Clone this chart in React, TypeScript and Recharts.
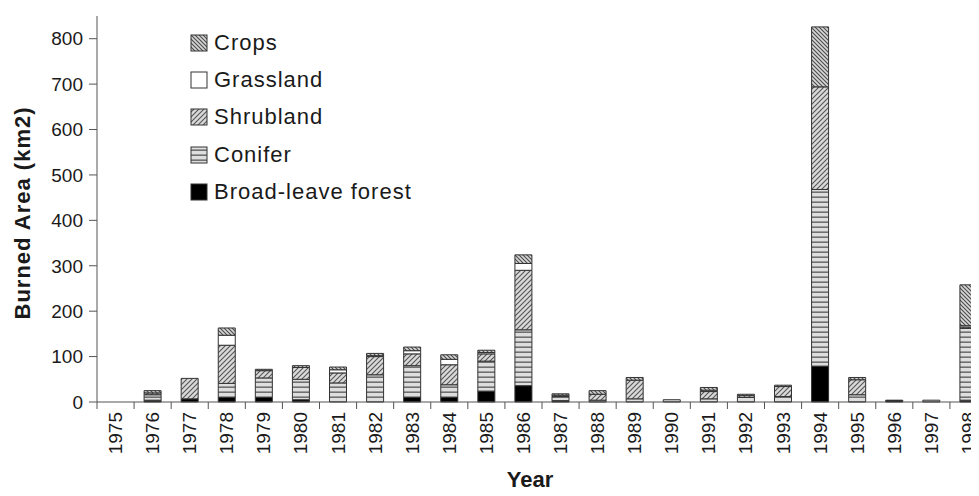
import React from 'react';
import { BarChart, Bar, XAxis, YAxis, Legend } from 'recharts';

const years = ['1975', '1976', '1977', '1978', '1979', '1980', '1981', '1982', '1983', '1984', '1985', '1986',
  '1987', '1988', '1989', '1990', '1991', '1992', '1993', '1994', '1995', '1996', '1997', '1998'];

// burned area per land cover, km2 (stacked bottom -> top)
const broadleaf = [0, 4, 7, 10, 10, 5, 0, 0, 10, 10, 24, 36, 3, 0, 0, 0, 0, 0, 0, 79, 0, 4, 0, 4];
const conifer = [0, 12, 0, 31, 43, 45, 42, 60, 70, 28, 66, 123, 9, 4, 7, 5, 7, 10, 12, 389, 16, 0, 4, 158];
const shrubland = [0, 4, 45, 84, 16, 26, 22, 40, 26, 44, 16, 131, 3, 13, 41, 0, 16, 4, 22, 226, 33, 0, 0, 3];
const grassland = [0, 0, 0, 22, 0, 0, 7, 2, 7, 12, 3, 15, 0, 0, 0, 0, 3, 0, 0, 0, 0, 0, 0, 3];
const crops = [0, 5, 0, 16, 3, 4, 6, 5, 8, 10, 5, 19, 3, 8, 6, 0, 6, 3, 3, 132, 5, 0, 0, 90];

const yTicks = [0, 100, 200, 300, 400, 500, 600, 700, 800];

const series = [
  { key: 'broadleaf', name: 'Broad-leave forest', fill: '#000' },
  { key: 'conifer', name: 'Conifer', fill: 'url(#pConifer)' },
  { key: 'shrubland', name: 'Shrubland', fill: 'url(#pShrub)' },
  { key: 'grassland', name: 'Grassland', fill: '#fff' },
  { key: 'crops', name: 'Crops', fill: 'url(#pCrops)' },
];

const FONT = '"Liberation Sans", Arial, sans-serif';

const data = years.map((year, i) => ({
  year,
  broadleaf: broadleaf[i],
  conifer: conifer[i],
  shrubland: shrubland[i],
  grassland: grassland[i],
  crops: crops[i],
}));

const Patterns = () => (
  <svg width={0} height={0} style={{ position: 'absolute' }}>
    <defs>
      <pattern id="pCrops" width="4" height="4" patternUnits="userSpaceOnUse">
        <rect width="4" height="4" fill="#d6d6d6" />
        <path d="M-1,-1 L5,5 M-1,3 L1,5 M3,-1 L5,1" stroke="#4a4a4a" strokeWidth="1.1" />
      </pattern>
      <pattern id="pShrub" width="5" height="5" patternUnits="userSpaceOnUse">
        <rect width="5" height="5" fill="#d9d9d9" />
        <path d="M-1,6 L6,-1 M-1,1 L1,-1 M4,6 L6,4" stroke="#555" strokeWidth="1.1" />
      </pattern>
      <pattern id="pConifer" width="5" height="5" patternUnits="userSpaceOnUse">
        <rect width="5" height="5" fill="#dedede" />
        <rect y="3.4" width="5" height="1.6" fill="#707070" />
      </pattern>
    </defs>
  </svg>
);

const YearTick = (props: any) => {
  const { x, y, payload, width, visibleTicksCount, index } = props;
  const band = width / visibleTicksCount;
  return (
    <g>
      {index === 0 && <line x1={x - band / 2} x2={x - band / 2} y1={y} y2={y + 7} stroke="#555" />}
      <line x1={x + band / 2} x2={x + band / 2} y1={y} y2={y + 7} stroke="#555" />
      <text
        x={x}
        y={y + 10}
        transform={`rotate(-90, ${x}, ${y + 10})`}
        textAnchor="end"
        dominantBaseline="central"
        fontSize={19}
        fontFamily={FONT}
        fill="#1a1a1a"
      >
        {payload.value}
      </text>
    </g>
  );
};

const LegendBox = () => (
  <div style={{ fontFamily: FONT }}>
    {[...series].reverse().map(s => (
      <div key={s.key} style={{ display: 'flex', alignItems: 'center', height: 37.3 }}>
        <svg width={18} height={18} style={{ marginRight: 6 }}>
          <rect x={1} y={1} width={16} height={16} fill={s.fill} stroke="#333" strokeWidth={1} />
        </svg>
        <span style={{ fontSize: 22, letterSpacing: 1, color: '#1a1a1a' }}>{s.name}</span>
      </div>
    ))}
  </div>
);

export default function App() {
  return (
    <div style={{ width: 971, height: 488, marginBottom: -8, overflow: 'hidden', position: 'relative' }}>
      <Patterns />
      <BarChart
        width={984}
        height={488}
        data={data}
        margin={{ top: 8, right: 5, left: 0, bottom: 0 }}
        barSize={17}
      >
        <XAxis
          dataKey="year"
          interval={0}
          tickSize={0}
          tickMargin={0}
          height={94}
          axisLine={{ stroke: '#555' }}
          tick={<YearTick />}
          label={{
            content: () => (
              <text x={522} y={479} textAnchor="middle" fontSize={22} fontWeight="bold" fontFamily={FONT} fill="#1a1a1a">
                Year
              </text>
            ),
          }}
        />
        <YAxis
          domain={[0, 850]}
          ticks={yTicks}
          width={89}
          tickSize={8}
          tickMargin={6}
          axisLine={{ stroke: '#555' }}
          tickLine={{ stroke: '#555' }}
          tick={{ fontSize: 19, fontFamily: FONT, fill: '#1a1a1a' }}
          label={{
            content: () => (
              <text
                x={14}
                y={205}
                transform="rotate(-90, 14, 205)"
                textAnchor="middle"
                dominantBaseline="central"
                fontSize={22}
                fontWeight="bold"
                letterSpacing={1}
                fontFamily={FONT}
                fill="#1a1a1a"
              >
                Burned Area (km2)
              </text>
            ),
          }}
        />
        <Legend
          layout="vertical"
          align="center"
          verticalAlign="middle"
          content={<LegendBox />}
          wrapperStyle={{ left: 182, top: 16, width: 260, height: 190 }}
        />
        {series.map(s => (
          <Bar
            key={s.key}
            dataKey={s.key}
            name={s.name}
            stackId="a"
            fill={s.fill}
            stroke="#333"
            strokeWidth={1}
            isAnimationActive={false}
          />
        ))}
      </BarChart>
    </div>
  );
}
